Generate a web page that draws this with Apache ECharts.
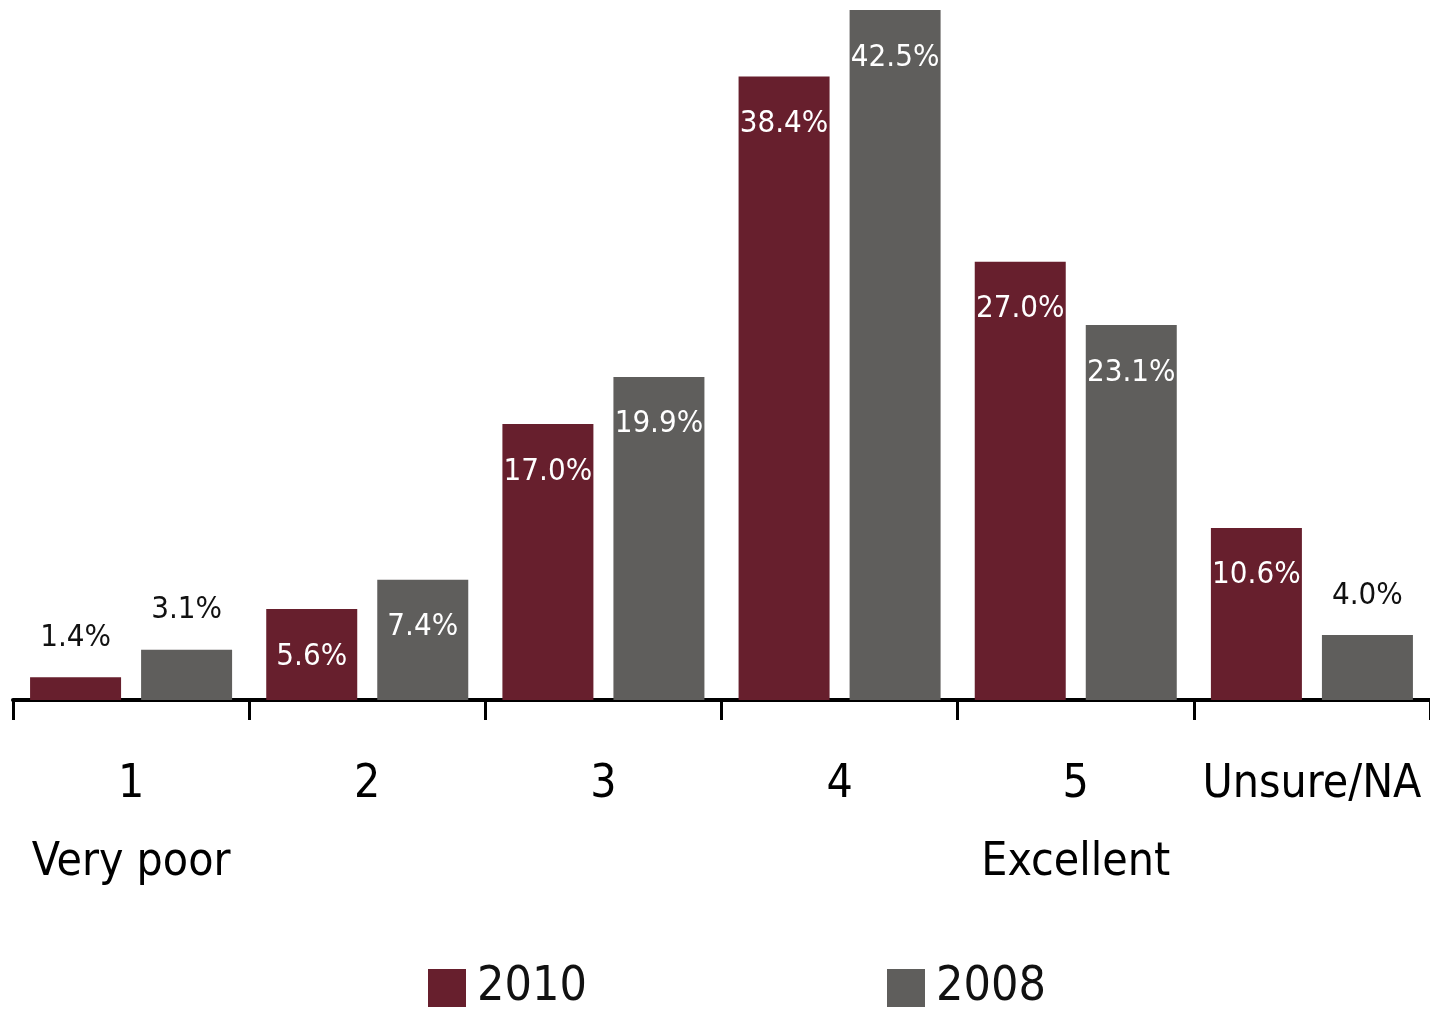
<!DOCTYPE html>
<html>
<head>
<meta charset="utf-8">
<script src="https://cdn.jsdelivr.net/npm/echarts@6/dist/echarts.min.js"></script>
<style>
html,body{margin:0;padding:0;background:#fff;}
#chart{width:1430px;height:1011px;}
</style>
</head>
<body>
<div id="chart"></div>
<script>
const categories = ['1\nVery poor', '2', '3', '4', '5\nExcellent', 'Unsure/NA'];
const seriesNames = ['2010', '2008'];
const values2010 = [1.4, 5.6, 17.0, 38.4, 27.0, 10.6];
const values2008 = [3.1, 7.4, 19.9, 42.5, 23.1, 4.0];
const colors = ['#671f2d', '#5f5e5c'];

const FONT = '"Liberation Sans Narrow", "DejaVu Sans Condensed", "Arial Narrow", sans-serif';

function buildData(vals) {
  return vals.map(v => {
    const small = v < 5;
    return {
      value: v,
      label: small
        ? { position: 'top', distance: 24, color: '#111' }
        : { position: 'insideTop', distance: 32, color: '#fff' }
    };
  });
}

const chart = echarts.init(document.getElementById('chart'));
chart.setOption({
  animation: false,
  backgroundColor: '#fff',
  grid: { left: 13, width: 1426, top: 10, bottom: 311, containLabel: false },
  legend: [
    { data: [seriesNames[0]], left: 423, top: 959, itemWidth: 38, itemHeight: 38, icon: 'rect',
      textStyle: { fontFamily: FONT, fontSize: 48, color: '#111', padding: [0, 0, 0, 6] } },
    { data: [seriesNames[1]], left: 882, top: 959, itemWidth: 38, itemHeight: 38, icon: 'rect',
      textStyle: { fontFamily: FONT, fontSize: 48, color: '#111', padding: [0, 0, 0, 6] } }
  ],
  xAxis: {
    type: 'category',
    data: categories,
    axisLine: { lineStyle: { color: '#000', width: 4 } },
    axisTick: { show: true, length: 20, lineStyle: { color: '#000', width: 3 } },
    axisLabel: {
      fontFamily: FONT, fontSize: 46, color: '#000', margin: 46, lineHeight: 78,
      interval: 0
    }
  },
  yAxis: {
    type: 'value', min: 0, max: 42.5, show: false,
    splitLine: { show: false }
  },
  series: [
    {
      name: seriesNames[0], type: 'bar', data: buildData(values2010),
      barWidth: 91, barGap: '22%',
      itemStyle: { color: colors[0] },
      label: { show: true, fontFamily: FONT, fontSize: 31, formatter: p => p.value.toFixed(1) + '%' }
    },
    {
      name: seriesNames[1], type: 'bar', data: buildData(values2008),
      barWidth: 91, barGap: '22%',
      itemStyle: { color: colors[1] },
      label: { show: true, fontFamily: FONT, fontSize: 31, formatter: p => p.value.toFixed(1) + '%' }
    }
  ]
});
</script>
</body>
</html>
